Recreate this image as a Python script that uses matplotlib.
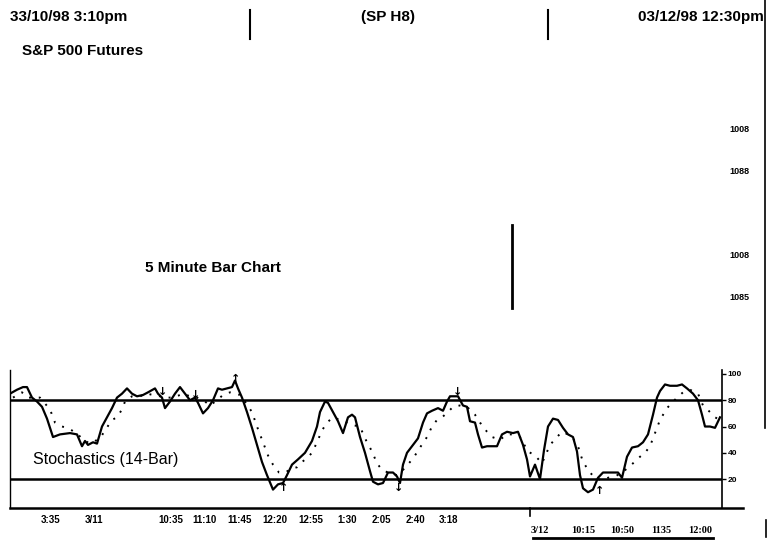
import matplotlib
matplotlib.use("Agg")
import matplotlib.pyplot as plt
from matplotlib.lines import Line2D

# %K (solid) and %D (dotted) stochastics, x = bar position along the panel
k_x = [10, 17, 23, 27, 32, 37, 42, 47, 53, 60, 70, 77, 82, 85, 88, 93, 97, 102, 107, 112,
       117, 122, 127, 132, 137, 143, 148, 155, 158, 162, 165, 170, 175, 180, 185, 190, 195,
       198, 203, 208, 213, 218, 222, 227, 232, 235, 238, 242, 247, 252, 257, 262, 267, 273,
       278, 283, 287, 292, 298, 305, 312, 317, 320, 325, 328, 333, 338, 343, 348, 352, 355,
       360, 365, 370, 373, 378, 383, 388, 393, 397, 400, 403, 407, 413, 418, 423, 427, 432,
       438, 443, 447, 450, 455, 458, 463, 467, 470, 475, 478, 482, 487, 497, 502, 507, 513,
       518, 523, 527, 530, 535, 540, 544, 548, 553, 558, 563, 568, 573, 577, 580, 583, 588,
       593, 598, 603, 612, 618, 622, 627, 632, 638, 643, 648, 653, 657, 660, 665, 670, 677,
       682, 687, 693, 698, 702, 705, 710, 715, 720]
k_v = [85, 88, 90, 90, 82, 79, 75, 66, 52, 54, 55, 54, 45, 49, 46, 48, 47, 60, 67, 74,
       82, 85, 89, 85, 83, 84, 86, 89, 85, 82, 74, 79, 85, 90, 85, 80, 82,
       78, 70, 74, 80, 89, 88, 89, 90, 95, 89, 82, 71, 59, 46, 33, 23, 12,
       16, 17, 23, 31, 35, 40, 49, 60, 71, 79, 78, 71, 64, 55, 67, 69, 67,
       52, 40, 26, 18, 16, 17, 25, 25, 22, 17, 31, 40, 46, 51, 63, 70, 72,
       74, 72, 79, 83, 83, 83, 76, 75, 64, 63, 54, 44, 45, 45, 54, 56, 55,
       56, 46, 35, 22, 31, 20, 42, 60, 66, 65, 59, 54, 52, 41, 23, 13, 10,
       12, 21, 25, 25, 25, 21, 37, 44, 45, 48, 54, 69, 82, 87, 92, 91, 91,
       92, 89, 85, 80, 69, 60, 60, 59, 67]

d_x = [13, 22, 28, 40, 50, 55, 62, 67, 72, 78, 83, 90, 100, 105, 112, 117, 122, 125, 132,
       140, 147, 153, 160, 167, 173, 180, 183, 190, 197, 205, 210, 217, 223, 230, 240, 245,
       252, 257, 263, 268, 273, 279, 285, 292, 297, 302, 307, 312, 317, 322, 327, 333, 340,
       347, 353, 360, 365, 372, 377, 382, 388, 397, 403, 410, 415, 420, 427, 432, 437, 442,
       448, 453, 460, 467, 475, 480, 487, 492, 500, 507, 513, 520, 528, 535, 542, 550, 557,
       562, 568, 573, 578, 583, 590, 595, 602, 608, 615, 622, 627, 633, 640, 645, 650, 655,
       660, 667, 672, 677, 683, 690, 698, 703, 710, 715, 720]
d_v = [82, 86, 82, 82, 73, 63, 60, 59, 57, 54, 50, 47, 51, 57, 65, 67, 73, 79, 83,
       83, 85, 84, 83, 82, 82, 84, 85, 83, 82, 79, 76, 80, 84, 86, 84, 79,
       71, 60, 48, 38, 31, 25, 25, 28, 29, 33, 36, 40, 48, 57, 63, 67, 65,
       63, 61, 60, 51, 41, 32, 27, 25, 23, 27, 33, 38, 44, 52, 60, 65, 67,
       71, 75, 76, 75, 69, 63, 56, 52, 50, 54, 54, 52, 41, 38, 32, 46, 52,
       56, 54, 51, 45, 33, 25, 21, 19, 21, 22, 25, 28, 32, 37, 40, 45, 55,
       65, 74, 78, 82, 86, 88, 85, 76, 71, 67, 65]

# buy / sell arrows
sig_x = [163, 196, 236, 284, 399, 458, 600]
sig_v = [86, 84, 96, 13, 13, 86, 11]
sig_dir = ["↓", "↓", "↑", "↑", "↓", "↓", "↑"]

levels = [20, 80]
y_ticks = [20, 40, 60, 80, 100]

tick_pos = [51, 94, 171, 204, 240, 275, 311, 347, 381, 415, 448]
tick_lab = ["3:35", "3/11", "10:35", "11:10", "11:45", "12:20", "12:55",
            "1:30", "2:05", "2:40", "3:18"]
tick2_pos = [540, 583, 622, 661, 700]
tick2_lab = ["3/12", "10:15", "10:50", "1135", "12:00"]

price_lab = ["1008", "1088", "1008", "1085"]
price_y = [130, 171, 255, 297]

W, H = 767, 540
plt.rcParams["font.family"] = ["Liberation Sans", "DejaVu Sans"]


def fx(x):
    return x / W


def fy(y):
    return 1 - y / H


fig = plt.figure(figsize=(W / 100, H / 100), dpi=100)

# header
fig.text(fx(10), fy(17), "33/10/98 3:10pm", fontsize=11, fontweight="bold", va="center")
fig.text(fx(388), fy(17), "(SP H8)", fontsize=11, fontweight="bold", va="center", ha="center")
fig.text(fx(764), fy(17), "03/12/98 12:30pm", fontsize=11, fontweight="bold", va="center", ha="right")
fig.text(fx(22), fy(51), "S&P 500 Futures", fontsize=11, fontweight="bold", va="center")
fig.text(fx(145), fy(268), "5 Minute Bar Chart", fontsize=11, fontweight="bold", va="center")
for lab, y in zip(price_lab, price_y):
    fig.text(fx(739), fy(y), lab, fontsize=6.5, fontweight="bold", va="center", ha="center")

for x0, y0, x1, y1, lw in [(250, 10, 250, 39, 1.5), (548, 10, 548, 39, 1.5),
                           (765, 0, 765, 428, 1.2), (766, 520, 766, 537, 1.2),
                           (512, 225, 512, 308, 2), (10, 508, 743, 508, 1.8),
                           (530, 508, 530, 516, 1.2), (533, 538, 713, 538, 2)]:
    fig.add_artist(Line2D([fx(x0), fx(x1)], [fy(y0), fy(y1)], color="black", lw=lw))

# stochastics panel
ax = fig.add_axes([fx(10), fy(508), fx(722 - 10), (508 - 370) / H])
ax.plot(k_x, k_v, color="black", lw=1.6)
ax.plot(d_x, d_v, color="black", lw=1.4, linestyle=(0, (1, 4)))
for lv in levels:
    ax.axhline(lv, color="black", lw=1.8)
for x, v, s in zip(sig_x, sig_v, sig_dir):
    ax.text(x, v, s, ha="center", va="center", fontsize=8, fontweight="bold",
            family="DejaVu Sans")
ax.text(33, 35, "Stochastics (14-Bar)", fontsize=11.5, va="center")

ax.set_xlim(10, 722)
ax.set_ylim(-2, 103)
ax.spines["top"].set_visible(False)
ax.spines["bottom"].set_visible(False)
ax.spines["left"].set_linewidth(1)
ax.spines["right"].set_linewidth(1.2)
ax.yaxis.tick_right()
ax.set_yticks(y_ticks)
ax.set_yticklabels([str(t) for t in y_ticks], fontsize=6, fontweight="bold")
ax.tick_params(axis="y", length=3, width=1, pad=1)
ax.set_xticks(tick_pos)
ax.set_xticklabels(tick_lab, fontsize=7, fontweight="bold")
ax.tick_params(axis="x", length=0, pad=5)
for x, lab in zip(tick2_pos, tick2_lab):
    ax.text(x, -0.16, lab, transform=ax.get_xaxis_transform(), ha="center", va="center",
            fontsize=7.5, fontweight="bold", family="Liberation Serif")

fig.savefig("out.png", dpi=100)
